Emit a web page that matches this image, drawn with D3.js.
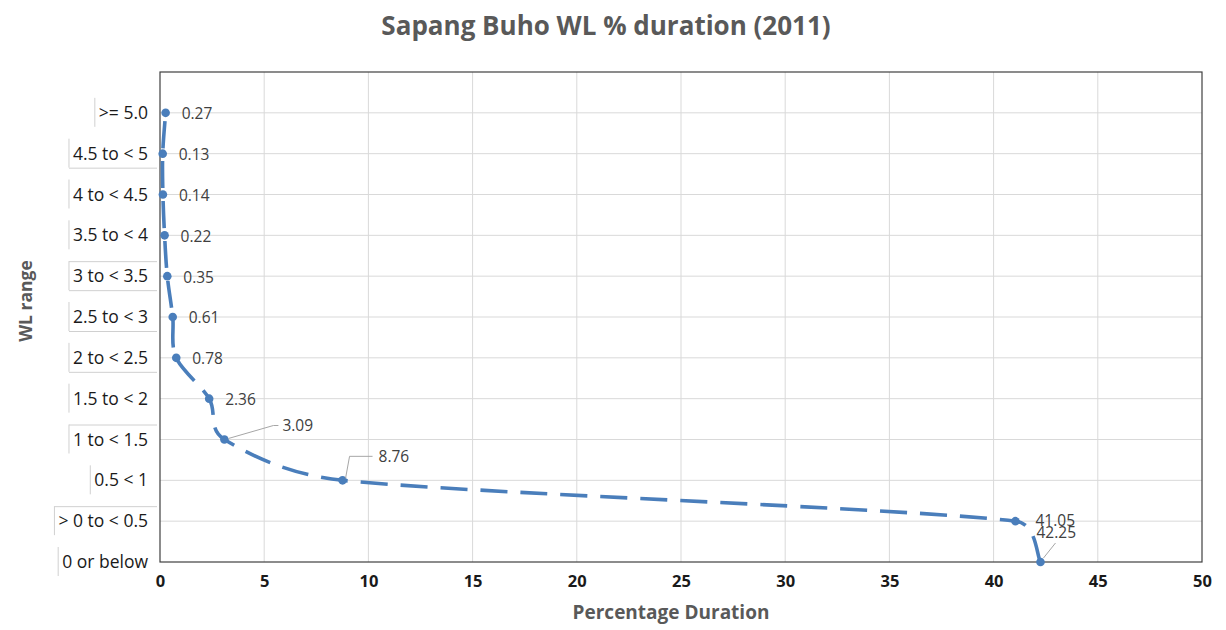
<!DOCTYPE html>
<html><head><meta charset="utf-8">
<script src="https://cdn.jsdelivr.net/npm/d3@7"></script>
<style>body{margin:0;background:#fff;} svg{display:block;} text{font-family:"Open Sans",Lato,sans-serif;}</style>
</head><body><svg id="c" width="1226" height="630"></svg>
<script>
const categories = ["0 or below", "> 0 to < 0.5", "0.5 < 1", "1 to < 1.5", "1.5 to < 2", "2 to < 2.5", "2.5 to < 3", "3 to < 3.5", "3.5 to < 4", "4 to < 4.5", "4.5 to < 5", ">= 5.0"];
const durations = [42.25, 41.05, 8.76, 3.09, 2.36, 0.78, 0.61, 0.35, 0.22, 0.14, 0.13, 0.27];
const xTicks = [0, 5, 10, 15, 20, 25, 30, 35, 40, 45, 50];
const title = "Sapang Buho WL % duration (2011)";
const xTitle = "Percentage Duration";
const yTitle = "WL range";

const svg = d3.select("#c");
const m = {l:160, r:1202, t:72, b:562};
const x = d3.scaleLinear().domain([0,50]).range([m.l, m.r]);
const y = d3.scaleLinear().domain([0,12]).range([m.b, m.t]);
const color = "#4a7ebb";

// gridlines
svg.append("g").selectAll("line").data(xTicks.slice(1,-1)).join("line")
  .attr("x1", d=>x(d)).attr("x2", d=>x(d)).attr("y1", m.t).attr("y2", m.b)
  .attr("stroke", "#d9d9d9").attr("stroke-width", 1);
svg.append("g").selectAll("line").data(d3.range(1,12)).join("line")
  .attr("x1", m.l).attr("x2", m.r).attr("y1", d=>y(d)).attr("y2", d=>y(d))
  .attr("stroke", "#d9d9d9").attr("stroke-width", 1);

// border
svg.append("rect").attr("x", m.l).attr("y", m.t).attr("width", m.r-m.l).attr("height", m.b-m.t)
  .attr("fill", "none").attr("stroke", "#404040").attr("stroke-width", 1.2);

// x axis labels
const xAxis = d3.axisBottom(x).tickValues(xTicks).tickSize(0).tickPadding(13);
const gx = svg.append("g").attr("transform", `translate(0,${m.b})`).call(xAxis);
gx.select(".domain").remove();
gx.selectAll("text").attr("font-size", 16.5).attr("font-weight", "bold").attr("fill", "#1a1a1a")
  .style("font-family", "'Open Sans',Lato,sans-serif");

// y category labels
const labels = svg.append("g").selectAll("text").data(categories).join("text")
  .attr("x", 148).attr("y", (d,i)=>y(i)).attr("dy", "0.35em")
  .attr("text-anchor", "end").attr("font-size", 17.5).attr("fill", "#1a1a1a").text(d=>d);
// decorative cell borders around labels
const hlines = {1:[-1], 3:[-1], 5:[1], 6:[1], 7:[-1,1], 10:[1]};
labels.each(function(d,i){
  const bb = this.getBBox();
  const lx = bb.x - 4;
  svg.append("line").attr("x1", lx).attr("x2", lx).attr("y1", y(i)-15).attr("y2", y(i)+14)
    .attr("stroke", "#d0d0d0").attr("stroke-width", 1);
  (hlines[i]||[]).forEach(s=>{
    const yy = y(i) + s*14.5;
    svg.append("line").attr("x1", lx).attr("x2", 157).attr("y1", yy).attr("y2", yy)
      .attr("stroke", "#d0d0d0").attr("stroke-width", 1);
  });
});

// Excel-like smoothed line: Bezier with 1/6 tangents, clamped to segment length
const P = durations.map((v,i)=>[x(v), y(i)]);
function excelPath(P){
  const n = P.length, T = [];
  for (let i=0;i<n;i++){
    const a = P[Math.max(0,i-1)], b = P[Math.min(n-1,i+1)];
    T.push([(b[0]-a[0])/6, (b[1]-a[1])/6]);
  }
  const len = v=>Math.hypot(v[0],v[1]);
  let d = `M${P[0][0]},${P[0][1]}`;
  for (let i=0;i<n-1;i++){
    const p0=P[i], p1=P[i+1];
    const seg = Math.hypot(p1[0]-p0[0], p1[1]-p0[1]);
    let t0=T[i], t1=T[i+1];
    const k0 = Math.min(1, 0.45*seg/(len(t0)||1)), k1 = Math.min(1, 0.45*seg/(len(t1)||1));
    const c1=[p0[0]+t0[0]*k0, p0[1]+t0[1]*k0], c2=[p1[0]-t1[0]*k1, p1[1]-t1[1]*k1];
    d += `C${c1[0]},${c1[1]} ${c2[0]},${c2[1]} ${p1[0]},${p1[1]}`;
  }
  return d;
}
svg.append("path").attr("d", excelPath(P)).attr("fill", "none")
  .attr("stroke", color).attr("stroke-width", 3.6).attr("stroke-dasharray", "27,13");

const pts = durations.map((v,i)=>[v,i]);
svg.append("g").selectAll("circle").data(pts).join("circle")
  .attr("cx", d=>x(d[0])).attr("cy", d=>y(d[1])).attr("r", 4.3).attr("fill", color);

// data labels
const offs = {
  0:{dx:-20, dy:-29},
  1:{dx:4, dy:-1},
  2:{dx:20, dy:-24},
  3:{dx:42, dy:-14}
};
const lg = svg.append("g");
pts.forEach((d,i)=>{
  const px = x(d[0]), py = y(d[1]);
  const o = offs[i] || {dx:0, dy:1};
  const tx = px + 16 + o.dx, ty = py + o.dy;
  if (i===2) {
    lg.append("polyline").attr("points", `${px+3},${py-2} ${px+7},${ty} ${tx-6},${ty}`)
      .attr("fill","none").attr("stroke","#a6a6a6").attr("stroke-width",1);
  } else if (i===3) {
    lg.append("polyline").attr("points", `${px+4},${py-1} ${tx-9},${ty} ${tx-4},${ty}`)
      .attr("fill","none").attr("stroke","#a6a6a6").attr("stroke-width",1);
  } else if (i===0) {
    lg.append("line").attr("x1", px+3).attr("y1", py-4).attr("x2", px+15).attr("y2", py-19)
      .attr("stroke","#a6a6a6").attr("stroke-width",1);
  }
  lg.append("text").attr("x", tx).attr("y", ty).attr("dy","0.35em")
    .attr("font-size", 15.5).attr("fill", "#404040").text(d[0].toFixed(2));
});

// titles
svg.append("text").attr("x", 606).attr("y", 26).attr("dy","0.35em").attr("text-anchor","middle")
  .attr("font-size", 26).attr("font-weight","bold").attr("fill","#595959").text(title);
svg.append("text").attr("x", 671).attr("y", 612).attr("dy","0.35em").attr("text-anchor","middle")
  .attr("font-size", 19).attr("font-weight","bold").attr("fill","#595959").text(xTitle);
svg.append("text").attr("transform","translate(26,301) rotate(-90)").attr("dy","0.35em").attr("text-anchor","middle")
  .attr("font-size", 17.5).attr("font-weight","bold").attr("fill","#595959").text(yTitle);
</script></body></html>
